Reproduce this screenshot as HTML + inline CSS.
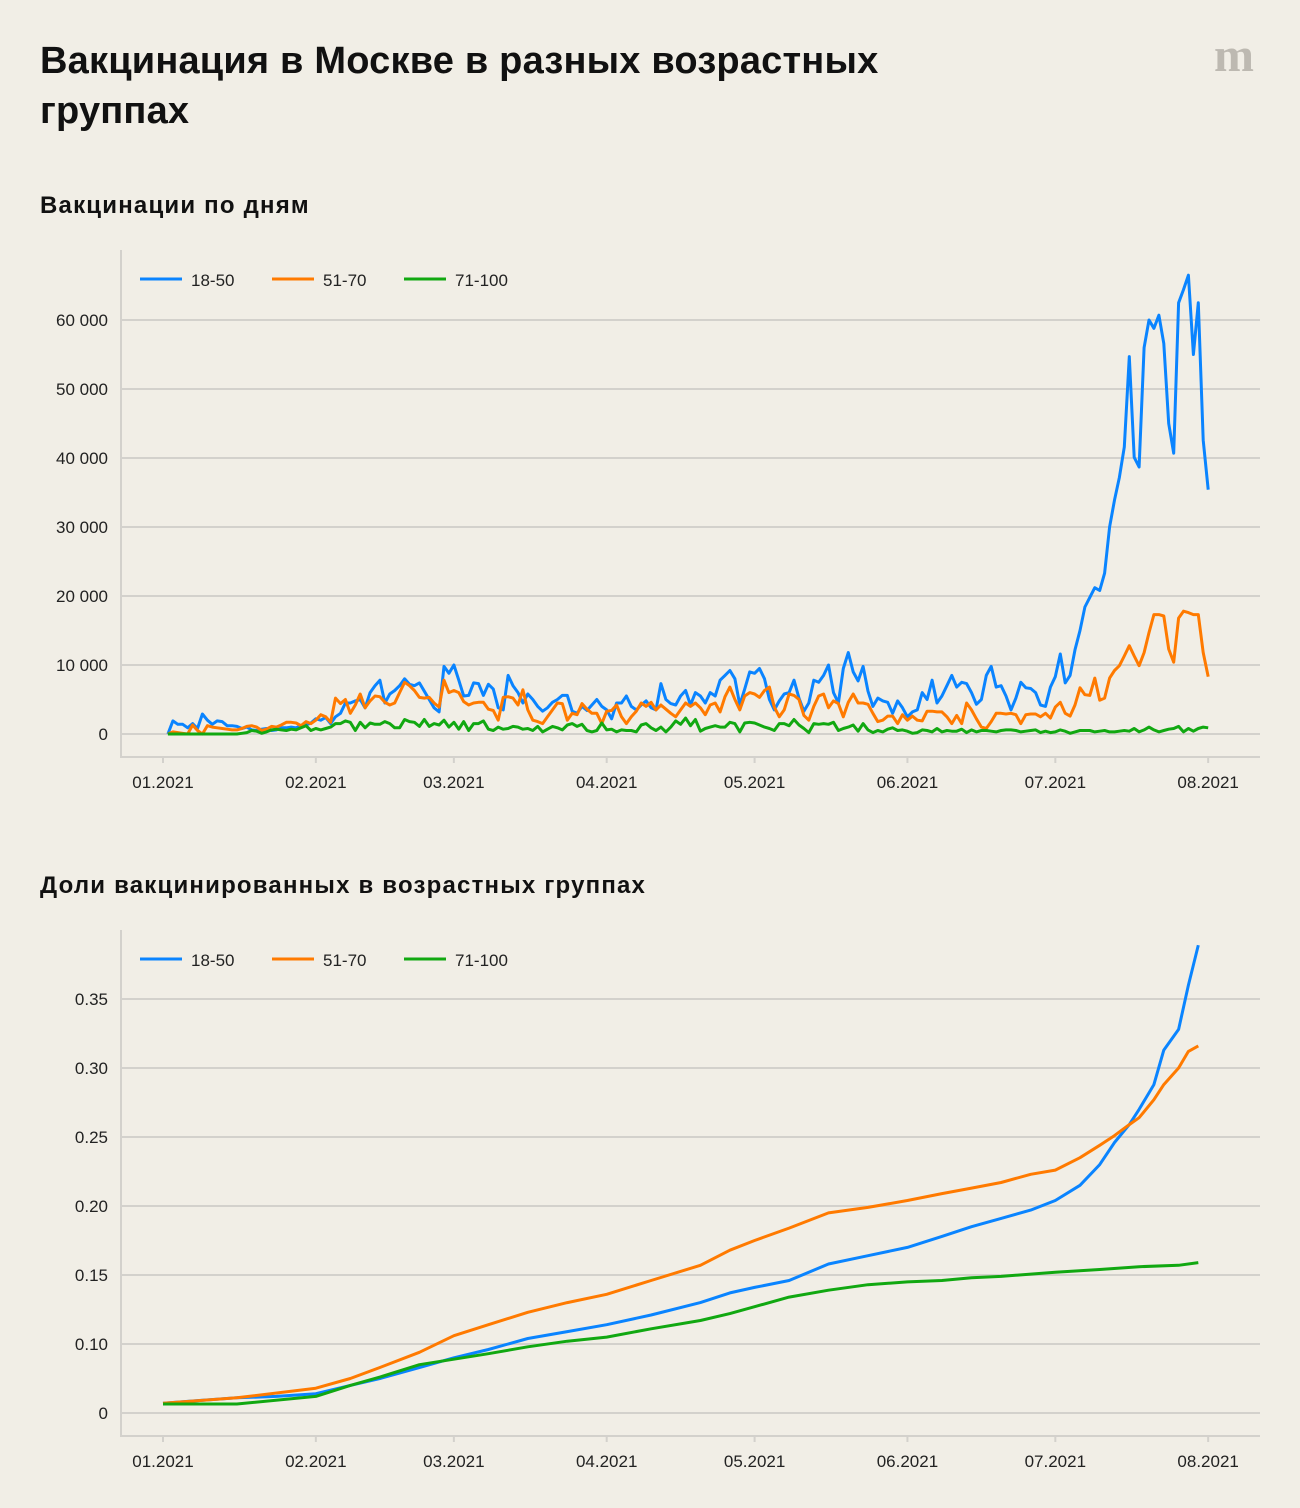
<!DOCTYPE html>
<html><head><meta charset="utf-8">
<style>
body{margin:0;background:#f1eee6;font-family:"Liberation Sans",sans-serif;}
#wrap{position:relative;width:1300px;height:1508px;overflow:hidden;background:#f1eee6;}
h1{position:absolute;left:40px;top:36px;margin:0;font-size:38px;line-height:50px;font-weight:bold;color:#111;width:900px;letter-spacing:0.2px;}
h2{position:absolute;left:40px;margin:0;font-size:24px;font-weight:bold;color:#111;letter-spacing:1.2px;}
svg text{font-family:"Liberation Sans",sans-serif;}
</style></head><body>
<div id="wrap">
<h1>Вакцинация в Москве в разных возрастных группах</h1>
<div style="position:absolute;left:1214px;top:28px;font:bold 48px 'Liberation Serif',serif;color:#bdb9b1;letter-spacing:-2px;">m</div>
<h2 style="top:192px">Вакцинации по дням</h2>
<h2 style="top:872px">Доли вакцинированных в возрастных группах</h2>
<svg id="c1" width="1300" height="1508" style="position:absolute;left:0;top:0"></svg>
</div>
<script>
const monthLabels=["01.2021","02.2021","03.2021","04.2021","05.2021","06.2021","07.2021","08.2021"];
const monthDays=[1,32,60,91,121,152,182,213];
const dailyTicks=[0,10000,20000,30000,40000,50000,60000];
const dailyTickLabels=["0","10 000","20 000","30 000","40 000","50 000","60 000"];
const shareTicks=[0.05,0.10,0.15,0.20,0.25,0.30,0.35];
const shareTickLabels=["0","0.10","0.15","0.20","0.25","0.30","0.35"];
const seriesNames=["18-50","51-70","71-100"];
const seriesColors=["#0a84ff","#ff7a00","#11a811"];
// daily values in thousands, starting Jan 2
const daily1850=[0,1.9,1.4,1.4,0.9,1.5,0.8,2.9,2.0,1.4,1.9,1.8,1.2,1.2,1.1,0.8,1.0,0.6,0.5,0.7,0.8,0.5,0.6,0.9,0.9,1.0,0.9,1.2,1.3,1.6,
2.2,2.0,2.4,1.5,2.5,3.0,4.5,4.5,4.8,5.0,3.8,6.0,7.0,7.8,4.5,5.8,6.3,7.0,8.0,7.2,7.0,7.4,6.2,5.0,3.8,3.2,9.8,8.8,
10,7.8,5.5,5.6,7.4,7.3,5.6,7.2,6.5,3.8,3.5,8.5,7.0,6.0,4.5,5.8,5.0,4.0,3.3,3.8,4.6,5.0,5.6,5.6,3.3,3.0,4.0,3.4,4.2,5.0,4.0,
3.5,2.2,4.5,4.5,5.5,4.0,3.5,4.2,4.8,3.8,3.5,7.3,5.0,4.4,4.2,5.5,6.3,4.2,6.0,5.5,4.5,6.0,5.5,7.8,8.5,9.2,8.0,4.2,6.5,9.0,
8.8,9.5,8.0,5.0,3.5,4.8,5.8,6.0,7.8,5.2,3.3,4.5,7.8,7.5,8.5,10,6.0,4.5,9.5,11.8,9.0,7.7,9.8,6.2,4.0,5.2,4.8,4.6,3.0,4.8,3.8,
2.5,3.2,3.5,6.0,5.0,7.8,4.5,5.5,7.0,8.5,6.8,7.5,7.3,6.0,4.3,5.0,8.5,9.8,6.8,7.0,5.5,3.5,5.2,7.5,6.7,6.6,6.0,4.2,4.0,6.8,
8.3,11.6,7.4,8.5,12.2,15,18.4,19.8,21.2,20.8,23.3,30,33.9,37.2,41.6,54.7,40.1,38.7,56,60,58.8,60.7,56.6,45,40.7,62.5,64.4,66.5,55,62.5,42.6,35.4];
const daily5170=[0,0.3,0.2,0.1,0,1.3,0.5,0,1.2,1.0,0.9,0.8,0.7,0.6,0.6,0.8,1.1,1.2,1.0,0.5,0.7,1.1,1.0,1.3,1.7,1.7,1.6,1.2,1.8,1.5,
2.0,2.8,2.5,1.7,5.2,4.4,5.0,3.0,4.2,5.8,3.8,4.8,5.5,5.4,4.6,4.2,4.5,6.0,7.5,7.0,6.3,5.3,5.2,5.3,4.5,3.9,7.8,6.0,
6.3,6.0,4.7,4.2,4.5,4.6,4.6,3.6,3.4,2.0,5.3,5.4,5.2,4.2,6.4,3.5,2.0,1.8,1.5,2.5,3.5,4.5,4.4,2.0,3.0,2.8,4.4,3.6,3.0,3.0,1.5,
3.3,3.4,4.2,2.5,1.5,2.5,3.3,4.5,4.0,4.6,3.5,4.2,3.6,3.0,2.5,3.5,4.5,4.0,4.5,3.8,2.8,4.2,4.5,3.2,5.4,6.8,5.0,3.5,5.5,6.0,
5.8,5.3,6.3,6.8,3.9,2.5,3.5,5.8,5.6,5.0,2.7,2.0,4.0,5.5,5.8,3.8,4.8,4.4,2.5,4.6,5.8,4.5,4.5,4.3,3.0,1.8,2.0,2.6,2.6,1.5,2.8,
2.0,2.6,2.0,1.9,3.3,3.3,3.2,3.2,2.5,1.5,2.7,1.5,4.5,3.5,2.2,1.0,0.8,1.8,3.0,3.0,2.9,3.0,2.8,1.5,2.8,2.9,2.9,2.5,3.0,2.3,
3.9,4.6,3.0,2.6,4.2,6.7,5.7,5.6,8.1,4.9,5.2,8.1,9.2,9.9,11.3,12.8,11.3,9.9,11.8,14.7,17.3,17.3,17.1,12.3,10.4,16.8,17.8,17.6,17.3,17.3,11.8,8.3];
const daily71100=[0,0,0,0,0,0,0,0,0,0,0,0,0,0,0,0.1,0.2,0.5,0.4,0.1,0.3,0.6,0.7,0.6,0.5,0.7,0.6,0.9,1.2,0.5,
0.8,0.6,0.8,1.0,1.5,1.5,1.9,1.7,0.5,1.7,0.9,1.6,1.4,1.4,1.8,1.5,0.9,0.9,2.1,1.8,1.7,1.1,2.1,1.1,1.5,1.3,2.0,1.0,
1.7,0.7,1.8,0.5,1.5,1.5,1.9,0.7,0.5,1.0,0.7,0.8,1.1,1.0,0.7,0.8,0.5,1.1,0.3,0.7,1.1,0.9,0.6,1.3,1.5,1.1,1.4,0.5,0.3,0.5,1.6,
0.6,0.7,0.3,0.6,0.5,0.5,0.3,1.3,1.5,0.9,0.5,1.0,0.3,1.0,1.9,1.4,2.3,1.2,2.1,0.4,0.8,1.0,1.2,1.0,1.0,1.7,1.5,0.3,1.6,1.7,
1.6,1.3,1.0,0.8,0.5,1.5,1.5,1.2,2.1,1.3,0.8,0.2,1.5,1.4,1.5,1.4,1.7,0.5,0.8,1.0,1.3,0.4,1.5,0.6,0.2,0.5,0.3,0.7,0.9,0.5,0.6,
0.4,0.1,0.2,0.6,0.5,0.3,0.8,0.3,0.5,0.4,0.4,0.7,0.2,0.6,0.3,0.5,0.5,0.4,0.3,0.5,0.6,0.6,0.5,0.3,0.4,0.5,0.6,0.2,0.4,0.2,
0.3,0.6,0.4,0.1,0.3,0.5,0.5,0.5,0.3,0.4,0.5,0.3,0.3,0.4,0.5,0.4,0.8,0.3,0.6,1.0,0.6,0.3,0.5,0.7,0.8,1.1,0.3,0.8,0.4,0.8,1.0,0.9];
// cumulative shares: day offsets from Jan 1 and values
const shareDays1850=[0,7,15,23,31,38,44,52,59,66,74,82,90,99,109,115,120,127,135,143,151,158,164,170,176,181,186,190,193,196,198,201,203,206,208,210];
const share1850=[.057,.059,.061,.062,.064,.070,.075,.083,.090,.096,.104,.109,.114,.121,.130,.137,.141,.146,.158,.164,.170,.178,.185,.191,.197,.204,.215,.230,.246,.259,.270,.288,.313,.328,.360,.389];
const shareDays5170=[0,15,31,38,44,52,59,66,74,82,90,99,109,115,120,127,135,143,151,158,164,170,176,181,186,190,193,196,198,201,203,206,208,210];
const share5170=[.057,.061,.068,.075,.083,.094,.106,.114,.123,.130,.136,.146,.157,.168,.175,.184,.195,.199,.204,.209,.213,.217,.223,.226,.235,.244,.251,.259,.264,.277,.288,.300,.312,.316];
const shareDays71100=[0,15,31,38,44,52,59,66,74,82,90,99,109,115,120,127,135,143,151,158,164,170,181,190,198,206,210];
const share71100=[.0565,.0565,.062,.070,.076,.085,.089,.093,.098,.102,.105,.111,.117,.122,.127,.134,.139,.143,.145,.146,.148,.149,.152,.154,.156,.157,.159];

const NS="http://www.w3.org/2000/svg";
const svg=document.getElementById('c1');
function mk(tag,attrs,parent){const e=document.createElementNS(NS,tag);for(const k in attrs)e.setAttribute(k,attrs[k]);(parent||svg).appendChild(e);return e;}
function xDay(d){return 163+(d-1)*4.93;}

function drawChart(cfg){
  const g=mk('g',{});
  
  
  const ax=mk('line',{x1:121,x2:121,y1:cfg.top,y2:cfg.base,stroke:'#d3d1cc','stroke-width':2},g);
  
  
  const bx=mk('line',{x1:120,x2:1260,y1:cfg.base,y2:cfg.base,stroke:'#d3d1cc','stroke-width':2},g);
  
  
  cfg.ticks.forEach((t,i)=>{
    const y=cfg.y(t);
    const gl=mk('line',{x1:121,x2:1260,y1:y,y2:y,stroke:'#d3d1cc','stroke-width':2},g);
    
    
    const tx=mk('text',{x:108,y:y+6,'text-anchor':'end','font-size':17,fill:'#222'},g);
    tx.textContent=cfg.tickLabels[i];
    
    
  });
  monthDays.forEach((d,i)=>{
    const x=xDay(d);
    const tk=mk('line',{x1:x,x2:x,y1:cfg.base,y2:cfg.base+6,stroke:'#d3d1cc','stroke-width':2},g);
    
    
    const tx=mk('text',{x:x,y:cfg.base+31,'text-anchor':'middle','font-size':17,fill:'#222'},g);
    tx.textContent=monthLabels[i];
    
    
  });
  cfg.series.forEach((s,i)=>{
    const pts=s.vals.map((v,j)=>xDay(s.days[j]).toFixed(1)+','+cfg.y(v).toFixed(1)).join(' ');
    const pl=mk('polyline',{points:pts,fill:'none',stroke:seriesColors[i],'stroke-width':3,'stroke-linejoin':'round'},g);
    
    
  });
  const lx=[140,272,404];
  seriesNames.forEach((n,i)=>{
    const lg=mk('g',{},g);
    
    
    mk('line',{x1:lx[i],x2:lx[i]+42,y1:cfg.legY,y2:cfg.legY,stroke:seriesColors[i],'stroke-width':3},lg);
    const t=mk('text',{x:lx[i]+51,y:cfg.legY+7,'font-size':17,fill:'#222'},lg);
    t.textContent=n;
  });
}
function dayRange(n){const a=[];for(let i=0;i<n;i++)a.push(i+2);return a;}
drawChart({name:'daily-vaccinations-chart',top:250,base:757,legY:279,
  y:v=>734-v*0.0069,ticks:dailyTicks,tickLabels:dailyTickLabels,
  series:[{days:dayRange(daily1850.length),vals:daily1850.map(v=>v*1000)},
          {days:dayRange(daily5170.length),vals:daily5170.map(v=>v*1000)},
          {days:dayRange(daily71100.length),vals:daily71100.map(v=>v*1000)}]});
drawChart({name:'share-vaccinated-chart',top:930,base:1436,legY:959,
  y:v=>1413-(v-0.05)*1380,ticks:shareTicks,tickLabels:shareTickLabels,
  series:[{days:shareDays1850.map(d=>d+1),vals:share1850},
          {days:shareDays5170.map(d=>d+1),vals:share5170},
          {days:shareDays71100.map(d=>d+1),vals:share71100}]});
</script>
</body></html>
